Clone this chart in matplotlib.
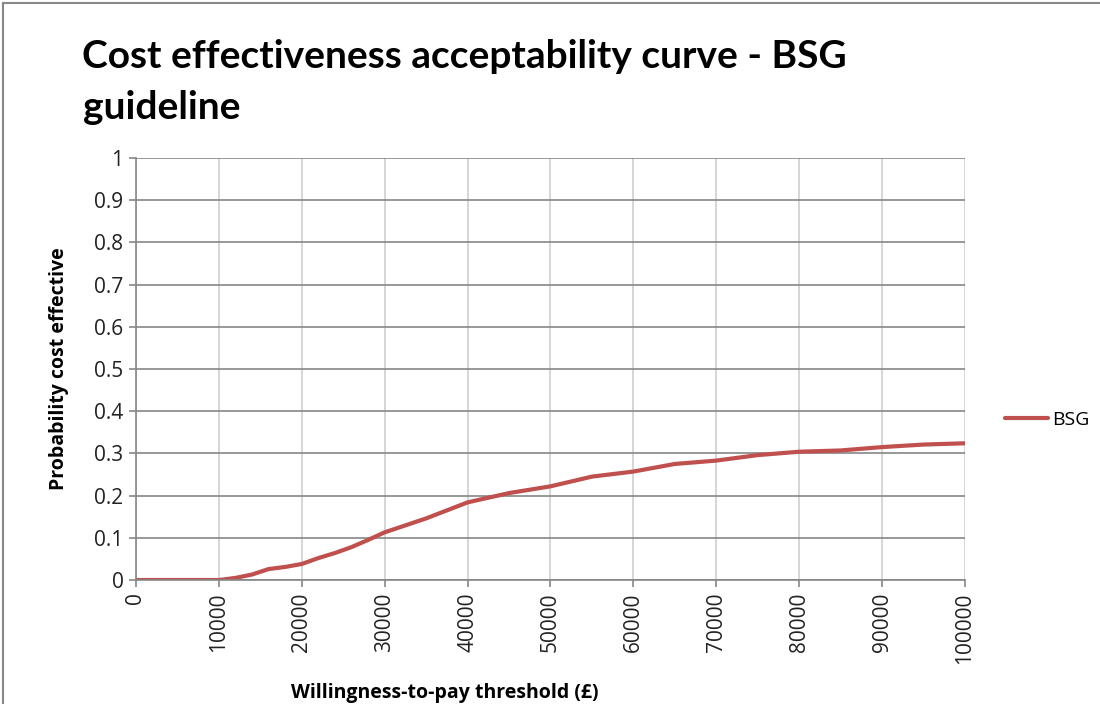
import matplotlib.pyplot as plt
from matplotlib.lines import Line2D

# willingness-to-pay (GBP) and probability cost effective
wtp = [0, 5000, 10000, 12000, 14000, 16000, 18000, 20000, 22000, 24000, 26000,
       28000, 30000, 35000, 40000, 45000, 50000, 55000, 60000, 65000, 70000,
       75000, 80000, 85000, 90000, 95000, 100000]
prob_bsg = [0, 0, 0, 0.005, 0.013, 0.026, 0.031, 0.038, 0.052, 0.064, 0.078,
            0.095, 0.113, 0.146, 0.184, 0.206, 0.222, 0.245, 0.257, 0.275, 0.283,
            0.296, 0.304, 0.307, 0.315, 0.321, 0.324]

x_ticks = list(range(0, 100001, 10000))
y_ticks = [0, 0.1, 0.2, 0.3, 0.4, 0.5, 0.6, 0.7, 0.8, 0.9, 1]
y_labels = ['0', '0.1', '0.2', '0.3', '0.4', '0.5', '0.6', '0.7', '0.8', '0.9', '1']

plt.rcParams['font.family'] = ['Open Sans', 'DejaVu Sans']

fig = plt.figure(figsize=(11, 7.04), dpi=100)
ax = fig.add_axes([0.1236, 0.1761, 0.7537, 0.5995])

line, = ax.plot(wtp, prob_bsg, color='#C0504D', lw=3, solid_capstyle='round')

ax.set_xlim(0, 100000)
ax.set_ylim(0, 1)
ax.set_xticks(x_ticks)
ax.set_xticklabels([str(v) for v in x_ticks], rotation=90, fontsize=15)
ax.set_yticks(y_ticks)
ax.set_yticklabels(y_labels, fontsize=15)
ax.yaxis.grid(True, color='#868686', lw=1.2)
ax.xaxis.grid(True, color='#d0d0d0', lw=1.2)
ax.set_axisbelow(True)
for s in ['top', 'right']:
    ax.spines[s].set_visible(False)
for s in ['left', 'bottom']:
    ax.spines[s].set_color('#868686')
    ax.spines[s].set_linewidth(1.2)
ax.tick_params(length=5, width=1.2, color='#868686', pad=4, labelcolor='#222222')

ax.set_xlabel('Willingness-to-pay threshold (£)', fontsize=14, fontweight='bold')
ax.xaxis.set_label_coords(0.373, -0.243)
ax.set_ylabel('Probability cost effective', fontsize=14, fontweight='bold')
ax.yaxis.set_label_coords(-0.081, 0.5)

fig.text(0.075, 0.945, 'Cost effectiveness acceptability curve - BSG\nguideline',
         fontsize=28, fontweight='bold', family=['Lato', 'DejaVu Sans'],
         va='top', ha='left', linespacing=1.55)

fig.legend([line], ['BSG'], loc='center left', bbox_to_anchor=(0.898, 0.403),
           frameon=False, fontsize=14, handlelength=2.2, handletextpad=0.2)

# outer chart border
fig.add_artist(Line2D([0.003, 0.003], [0, 0.996], color='#888888', lw=1.5))
fig.add_artist(Line2D([0.003, 1], [0.996, 0.996], color='#888888', lw=1.5))

fig.savefig('out.png', dpi=100)
